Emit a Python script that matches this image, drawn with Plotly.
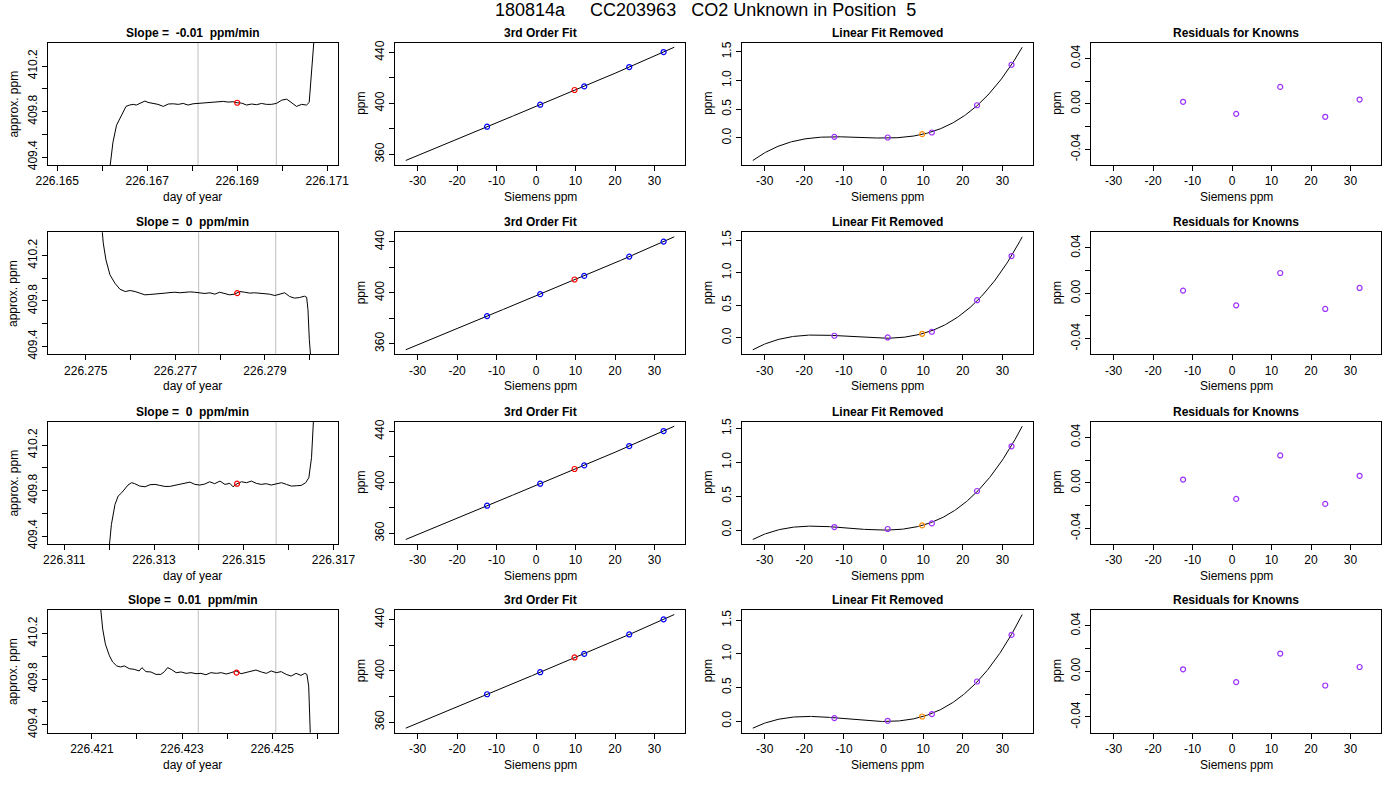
import numpy as np
import plotly.graph_objects as go

# ---------------- data ----------------
main_title = "180814a\u00a0\u00a0\u00a0\u00a0\u00a0CC203963\u00a0\u00a0\u00a0CO2 Unknown in Position\u00a0\u00a05"
slopes = ["-0.01", "0", "0", "0.01"]

# column 1: analyser trace, day of year vs approx. ppm (one list pair per row)
day_r1 = [226.16617, 226.16624, 226.16632, 226.16643, 226.16653, 226.16661, 226.16669, 226.16676,
          226.16684, 226.16695, 226.16702, 226.16713, 226.16724, 226.16736, 226.16747, 226.16758,
          226.16769, 226.16780, 226.16791, 226.16802, 226.16813, 226.16824, 226.16836, 226.16847,
          226.16858, 226.16869, 226.16880, 226.16891, 226.16900, 226.16910, 226.16921, 226.16932,
          226.16943, 226.16954, 226.16965, 226.16976, 226.16987, 226.16999, 226.17010, 226.17021,
          226.17032, 226.17043, 226.17054, 226.17060, 226.17065, 226.17070, 226.17073]
ppm_r1 = [409.30, 409.53, 409.68, 409.76, 409.845, 409.857, 409.863, 409.857, 409.874, 409.892,
          409.880, 409.874, 409.863, 409.845, 409.866, 409.868, 409.863, 409.871, 409.857, 409.868,
          409.871, 409.877, 409.883, 409.880, 409.886, 409.889, 409.883, 409.886, 409.877, 409.874,
          409.857, 409.866, 409.860, 409.871, 409.863, 409.863, 409.871, 409.900, 409.909, 409.880,
          409.845, 409.863, 409.857, 409.880, 410.11, 410.40, 410.55]

day_r2 = [226.27536, 226.27539, 226.27545, 226.27554, 226.27565, 226.27576, 226.27588, 226.27599,
          226.27610, 226.27621, 226.27632, 226.27643, 226.27654, 226.27665, 226.27677, 226.27688,
          226.27699, 226.27710, 226.27721, 226.27732, 226.27743, 226.27755, 226.27766, 226.27777,
          226.27788, 226.27799, 226.27810, 226.27821, 226.27832, 226.27844, 226.27855, 226.27866,
          226.27877, 226.27888, 226.27899, 226.27910, 226.27922, 226.27933, 226.27944, 226.27955,
          226.27966, 226.27977, 226.27988, 226.27993, 226.27996, 226.27999, 226.28002]
ppm_r2 = [410.45, 410.31, 410.162, 410.03, 409.957, 409.904, 409.883, 409.892, 409.883, 409.869,
          409.854, 409.857, 409.863, 409.869, 409.869, 409.874, 409.877, 409.872, 409.877, 409.880,
          409.877, 409.874, 409.866, 409.872, 409.860, 409.877, 409.866, 409.854, 409.860, 409.883,
          409.877, 409.869, 409.872, 409.869, 409.863, 409.860, 409.848, 409.860, 409.872, 409.839,
          409.825, 409.830, 409.842, 409.833, 409.722, 409.458, 409.31]

day_r3 = [226.31200, 226.31205, 226.31213, 226.31220, 226.31228, 226.31235, 226.31242, 226.31250,
          226.31257, 226.31268, 226.31280, 226.31291, 226.31302, 226.31313, 226.31324, 226.31335,
          226.31346, 226.31358, 226.31369, 226.31380, 226.31391, 226.31402, 226.31413, 226.31424,
          226.31435, 226.31447, 226.31458, 226.31469, 226.31476, 226.31485, 226.31495, 226.31506,
          226.31517, 226.31528, 226.31539, 226.31550, 226.31561, 226.31573, 226.31584, 226.31595,
          226.31606, 226.31617, 226.31628, 226.31638, 226.31645, 226.31651, 226.31654, 226.31656]
ppm_r3 = [409.297, 409.502, 409.678, 409.751, 409.781, 409.810, 409.848, 409.869, 409.860, 409.839,
          409.833, 409.851, 409.854, 409.845, 409.836, 409.836, 409.845, 409.851, 409.866, 409.874,
          409.854, 409.848, 409.857, 409.877, 409.860, 409.883, 409.854, 409.863, 409.833, 409.860,
          409.877, 409.869, 409.883, 409.863, 409.854, 409.860, 409.848, 409.857, 409.869, 409.854,
          409.839, 409.842, 409.845, 409.869, 409.913, 410.089, 410.38, 410.47]

day_r4 = [226.42119, 226.42124, 226.42130, 226.42139, 226.42146, 226.42155, 226.42164, 226.42172,
          226.42183, 226.42194, 226.42205, 226.42211, 226.42220, 226.42231, 226.42242, 226.42253,
          226.42261, 226.42268, 226.42276, 226.42287, 226.42298, 226.42309, 226.42320, 226.42331,
          226.42342, 226.42353, 226.42364, 226.42376, 226.42387, 226.42398, 226.42409, 226.42420,
          226.42431, 226.42442, 226.42453, 226.42464, 226.42476, 226.42487, 226.42498, 226.42509,
          226.42520, 226.42531, 226.42542, 226.42553, 226.42564, 226.42572, 226.42577, 226.42581,
          226.42583, 226.42585]
ppm_r4 = [410.44, 410.238, 410.106, 410.003, 409.950, 409.915, 409.906, 409.915, 409.891, 409.885,
          409.871, 409.900, 409.865, 409.862, 409.841, 409.841, 409.865, 409.900, 409.885, 409.856,
          409.862, 409.850, 409.856, 409.847, 409.850, 409.838, 409.856, 409.850, 409.856, 409.844,
          409.856, 409.871, 409.847, 409.856, 409.868, 409.879, 409.862, 409.850, 409.871, 409.856,
          409.865, 409.841, 409.826, 409.850, 409.832, 409.850, 409.841, 409.738, 409.503, 409.268]

trace_days = [day_r1, day_r2, day_r3, day_r4]
trace_ppm = [ppm_r1, ppm_r2, ppm_r3, ppm_r4]

window_start = [226.16813, 226.27752, 226.31400, 226.42336]
window_end = [226.16987, 226.27924, 226.31572, 226.42508]
mean_day = [226.16900, 226.27838, 226.31485, 226.42421]
mean_ppm = [409.877, 409.869, 409.860, 409.856]
day_ranges = [[226.16479, 226.17124], [226.27415, 226.28063],
              [226.31063, 226.31710], [226.42002, 226.42646]]
ppm_range = [409.33, 410.405]

# columns 2-4: calibration against the knowns
known_siemens = [-12.4, 1.05, 12.2, 23.6, 32.3]
known_ppm = [381.7, 398.95, 413.3, 428.5, 440.3]
unknown_siemens = 9.75
unknown_ppm = 410.5
fit_span = [-33.0, 35.0]

lin_removed = [[0.017, 0.006, 0.093, 0.568, 1.274],
               [0.031, 0.005, 0.092, 0.577, 1.255],
               [0.044, 0.015, 0.098, 0.576, 1.236],
               [0.045, 0.005, 0.104, 0.589, 1.282]]
unknown_removed = [0.064, 0.061, 0.068, 0.069]
# the "linear fit removed" curve as read at x = -33, -20 and 35
curve_read_x = [-33.0, -20.0, 35.0]
curve_read_y = [[-0.394, -0.023, 1.580],
                [-0.184, 0.036, 1.551],
                [-0.137, 0.049, 1.539],
                [-0.104, 0.069, 1.589]]
residuals = [[0.0018, -0.0088, 0.0149, -0.0114, 0.0038],
             [0.0024, -0.0106, 0.0179, -0.0138, 0.0047],
             [0.0029, -0.0141, 0.0241, -0.0185, 0.0062],
             [0.0018, -0.0094, 0.0156, -0.0124, 0.0038]]
resid_range = [-0.0538, 0.0538]

# ---------------- layout geometry (pixels) ----------------
W, H = 1400, 800
col_px = [(47.7, 338.0), (395.0, 685.0), (742.0, 1033.0), (1091.0, 1381.0)]
row_px = [(42.7, 165.0), (232.3, 354.3), (421.7, 544.0), (610.0, 732.7)]
FONT = "Liberation Sans, Arial, Helvetica, sans-serif"
BLUE = "#0000FF"
PURPLE = "#9B30FF"
ORANGE = "#FF8C00"
MSIZE = 5

fig = go.Figure()
layout = {}
annotations = []
shapes = []


def pad(lo, hi, f=0.04):
    d = (hi - lo) * f
    return [lo - d, hi + d]


def add_panel(r, c, xr, yr, xt, yt, title, xlab, ylab):
    n = r * 4 + c + 1
    s = "" if n == 1 else str(n)
    x0, x1 = col_px[c]
    y0, y1 = row_px[r]
    common = dict(showline=True, linecolor="black", linewidth=1, mirror=True,
                  ticks="outside", ticklen=5, tickcolor="black", tickwidth=1,
                  showgrid=False, zeroline=False, automargin=False,
                  tickfont=dict(family=FONT, size=12, color="black"))
    layout["xaxis" + s] = dict(domain=[x0 / W, x1 / W], anchor="y" + s, range=xr,
                               tickmode="array", tickvals=xt[0], ticktext=xt[1], **common)
    layout["yaxis" + s] = dict(domain=[1 - y1 / H, 1 - y0 / H], anchor="x" + s, range=yr,
                               tickmode="array", tickvals=yt[0], ticktext=yt[1],
                               tickangle=-90, **common)
    xd, yd = "x" + s + " domain", "y" + s + " domain"
    annotations.append(dict(text="<b>" + title + "</b>", x=0.5, y=1, xref=xd, yref=yd,
                            xanchor="center", yanchor="middle", yshift=10, showarrow=False,
                            font=dict(family=FONT, size=12, color="black")))
    annotations.append(dict(text=xlab, x=0.5, y=0, xref=xd, yref=yd, xanchor="center",
                            yanchor="middle", yshift=-32, showarrow=False,
                            font=dict(family=FONT, size=12, color="black")))
    annotations.append(dict(text=ylab, x=0, y=0.5, xref=xd, yref=yd, xanchor="center",
                            yanchor="middle", xshift=-34, textangle=-90, showarrow=False,
                            font=dict(family=FONT, size=12, color="black")))
    return "x" + s, "y" + s


def circles(x, y, color, xa, ya):
    return go.Scatter(x=x, y=y, mode="markers",
                      marker=dict(symbol="circle-open", size=MSIZE, color=color, line=dict(width=1.2)),
                      xaxis=xa, yaxis=ya, showlegend=False, hoverinfo="skip")


siem_ticks = [list(range(-30, 31, 10)), [str(v) for v in range(-30, 31, 10)]]
siem_range = pad(*fit_span)
xs = np.linspace(fit_span[0], fit_span[1], 300)

for r in range(4):
    # ---- column 1: trace ----
    lo, hi = day_ranges[r]
    k = np.arange(np.ceil(lo * 1000 - 1e-6), np.floor(hi * 1000 + 1e-6) + 1)
    tv = list(np.round(k / 1000, 3))
    tt = [("%.3f" % v) if int(kk) % 2 == 1 else "" for v, kk in zip(tv, k)]
    yt = [[409.4, 409.6, 409.8, 410.0, 410.2], ["409.4", "", "409.8", "", "410.2"]]
    xa, ya = add_panel(r, 0, day_ranges[r], ppm_range, [tv, tt], yt,
                       "Slope =\u00a0 " + slopes[r] + "\u00a0 ppm/min", "day of year", "approx. ppm")
    for xv in (window_start[r], window_end[r]):
        shapes.append(dict(type="line", xref=xa, yref=ya + " domain", x0=xv, x1=xv, y0=0, y1=1,
                           line=dict(color="#BEBEBE", width=1), layer="below"))
    fig.add_trace(go.Scatter(x=trace_days[r], y=trace_ppm[r], mode="lines",
                             line=dict(color="black", width=1), xaxis=xa, yaxis=ya,
                             showlegend=False, hoverinfo="skip"))
    fig.add_trace(circles([mean_day[r]], [mean_ppm[r]], "red", xa, ya))

    # ---- column 2: 3rd order fit ----
    cfit = np.polyfit(known_siemens, known_ppm, 3)
    ys = np.polyval(cfit, xs)
    yt = [[360, 380, 400, 420, 440], ["360", "", "400", "", "440"]]
    xa, ya = add_panel(r, 1, siem_range, pad(ys.min(), ys.max()), siem_ticks, yt,
                       "3rd Order Fit", "Siemens ppm", "ppm")
    fig.add_trace(go.Scatter(x=xs, y=ys, mode="lines", line=dict(color="black", width=1),
                             xaxis=xa, yaxis=ya, showlegend=False, hoverinfo="skip"))
    fig.add_trace(circles(known_siemens, known_ppm, BLUE, xa, ya))
    fig.add_trace(circles([unknown_siemens], [unknown_ppm], "red", xa, ya))

    # ---- column 3: linear fit removed ----
    lfit = np.polyfit(known_siemens + curve_read_x, lin_removed[r] + curve_read_y[r], 3)
    ys = np.polyval(lfit, xs)
    yt = [[0.0, 0.5, 1.0, 1.5], ["0.0", "0.5", "1.0", "1.5"]]
    xa, ya = add_panel(r, 2, siem_range, pad(ys.min(), ys.max()), siem_ticks, yt,
                       "Linear Fit Removed", "Siemens ppm", "ppm")
    fig.add_trace(go.Scatter(x=xs, y=ys, mode="lines", line=dict(color="black", width=1),
                             xaxis=xa, yaxis=ya, showlegend=False, hoverinfo="skip"))
    fig.add_trace(circles(known_siemens, lin_removed[r], PURPLE, xa, ya))
    fig.add_trace(circles([unknown_siemens], [unknown_removed[r]], ORANGE, xa, ya))

    # ---- column 4: residuals ----
    yt = [[-0.04, -0.02, 0.0, 0.02, 0.04], ["-0.04", "", "0.00", "", "0.04"]]
    xa, ya = add_panel(r, 3, siem_range, resid_range, siem_ticks, yt,
                       "Residuals for Knowns", "Siemens ppm", "ppm")
    fig.add_trace(circles(known_siemens, residuals[r], PURPLE, xa, ya))

annotations.append(dict(text=main_title, x=705 / W, y=1 - 10 / H, xref="paper", yref="paper",
                        xanchor="center", yanchor="middle", showarrow=False,
                        font=dict(family=FONT, size=18, color="black")))

fig.update_layout(**layout)
fig.update_layout(width=W, height=H, margin=dict(l=0, r=0, t=0, b=0, autoexpand=False),
                  paper_bgcolor="white", plot_bgcolor="white",
                  annotations=annotations, shapes=shapes, showlegend=False)

# drop the browser's default 8px body margin so the figure sits at the window origin
fig.write_html("out.html", config={"displayModeBar": False},
               post_script="document.body.style.margin = '0';")
